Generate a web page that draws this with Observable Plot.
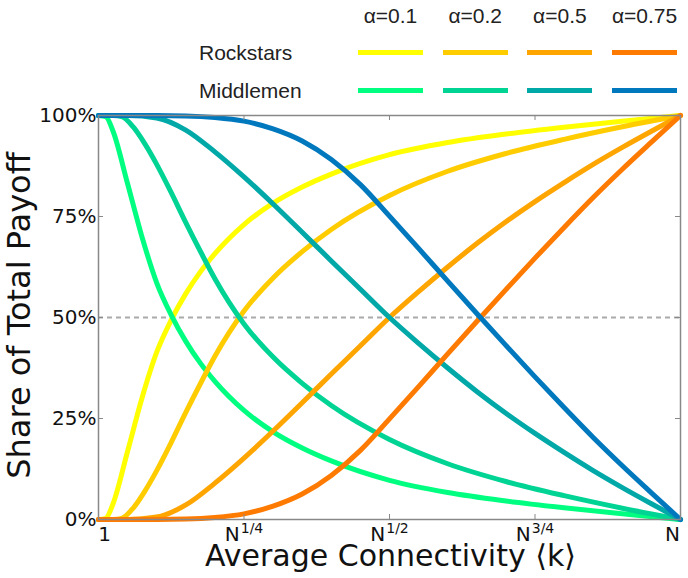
<!DOCTYPE html>
<html><head><meta charset="utf-8">
<script src="https://cdn.jsdelivr.net/npm/d3@7"></script>
<script src="https://cdn.jsdelivr.net/npm/@observablehq/plot@0.6"></script>
<style>
body{margin:0;background:#fff;}
#legend{position:relative;width:688px;height:105px;font-family:"Liberation Sans",Arial,sans-serif;font-size:21px;color:#222;}
.lab{position:absolute;white-space:nowrap;line-height:1;}
.sw{position:absolute;height:5px;width:65px;}
</style></head><body>
<div id="legend"></div>
<div id="chart"></div>
<script>
// ---- data (x = log_N k, y = share of total payoff) ----
const alphaLabels = ["α=0.1", "α=0.2", "α=0.5", "α=0.75"];
const seriesNames = ["Rockstars", "Middlemen"];
const rockColors = ["#FFFF00", "#FFCC00", "#FFA500", "#FF7A00"];
const midColors  = ["#00FF80", "#00D494", "#00A8A8", "#0078BE"];

const xA01 = [0, 0.0125, 0.025, 0.05, 0.075, 0.1, 0.125, 0.15, 0.175, 0.2, 0.25, 0.3, 0.35, 0.4, 0.5, 0.6, 0.7, 0.8, 0.9, 1];
const rockA01 = [0, 0.003, 0.039, 0.169, 0.302, 0.414, 0.494, 0.559, 0.613, 0.658, 0.73, 0.783, 0.823, 0.855, 0.903, 0.933, 0.954, 0.971, 0.986, 1];
const midA01  = [1, 0.997, 0.961, 0.831, 0.698, 0.586, 0.506, 0.441, 0.387, 0.342, 0.27, 0.217, 0.177, 0.145, 0.097, 0.067, 0.046, 0.029, 0.014, 0];

const xA02 = [0, 0.025, 0.04, 0.06, 0.08, 0.1, 0.125, 0.15, 0.175, 0.2, 0.25, 0.3, 0.35, 0.4, 0.5, 0.6, 0.7, 0.8, 0.9, 1];
const rockA02 = [0, 0, 0.003, 0.029, 0.071, 0.121, 0.191, 0.265, 0.336, 0.404, 0.516, 0.598, 0.663, 0.718, 0.802, 0.862, 0.906, 0.941, 0.972, 1];
const midA02  = [1, 1, 0.997, 0.971, 0.929, 0.879, 0.809, 0.735, 0.664, 0.596, 0.484, 0.402, 0.337, 0.282, 0.198, 0.138, 0.094, 0.059, 0.028, 0];

const xA05 = [0, 0.05, 0.1, 0.15, 0.2, 0.25, 0.3, 0.35, 0.4, 0.45, 0.5, 0.55, 0.6, 0.65, 0.7, 0.75, 0.8, 0.85, 0.9, 0.95, 1];
const rockA05 = [0, 0, 0.006, 0.036, 0.09, 0.152, 0.219, 0.289, 0.36, 0.43, 0.5, 0.564, 0.625, 0.683, 0.737, 0.787, 0.834, 0.879, 0.921, 0.961, 1];
const midA05  = [1, 1, 0.994, 0.964, 0.91, 0.848, 0.781, 0.711, 0.64, 0.57, 0.5, 0.436, 0.375, 0.317, 0.263, 0.213, 0.166, 0.121, 0.079, 0.039, 0];

const xA075 = [0, 0.1, 0.15, 0.2, 0.25, 0.3, 0.35, 0.4, 0.45, 0.5, 0.55, 0.6, 0.65, 0.7, 0.75, 0.8, 0.85, 0.9, 0.95, 1];
const rockA075 = [0, 0, 0.001, 0.005, 0.014, 0.033, 0.063, 0.109, 0.171, 0.249, 0.329, 0.41, 0.49, 0.569, 0.647, 0.723, 0.797, 0.867, 0.934, 1];
const midA075  = [1, 1, 0.999, 0.995, 0.986, 0.967, 0.937, 0.891, 0.829, 0.751, 0.671, 0.59, 0.51, 0.431, 0.353, 0.277, 0.203, 0.133, 0.066, 0];

const xTickPos = [0, 0.25, 0.5, 0.75, 1];
const xTickLabels = ["1", "N^1/4", "N^1/2", "N^3/4", "N"];
const yTickPos = [0, 0.25, 0.5, 0.75, 1];
const yTickLabels = ["0%", "25%", "50%", "75%", "100%"];
const xTitle = "Average Connectivity ⟨k⟩";
const yTitle = "Share of Total Payoff";
const refLine = [0.5];

// ---- build series ----
const xs = [xA01, xA02, xA05, xA075];
const rocks = [rockA01, rockA02, rockA05, rockA075];
const mids = [midA01, midA02, midA05, midA075];
const toRows = (x, y) => x.map((v, i) => ({x: v, y: y[i]}));

// ---- legend (HTML) ----
const leg = document.getElementById("legend");
function addLab(txt, left, top, center) {
  const s = document.createElement("span");
  s.className = "lab"; s.textContent = txt;
  s.style.top = top + "px";
  s.style.left = left + "px";
  if (center) s.style.transform = "translateX(-50%)";
  leg.appendChild(s);
}
alphaLabels.forEach((a, i) => {
  const left = 358 + i * 84.7;
  addLab(a, left + 32.5, 5, true);
  [rockColors[i], midColors[i]].forEach((c, j) => {
    const d = document.createElement("div");
    d.className = "sw"; d.style.left = left + "px"; d.style.top = (j ? 88 : 50) + "px"; d.style.background = c;
    leg.appendChild(d);
  });
});
addLab(seriesNames[0], 199, 42, false);
addLab(seriesNames[1], 199, 80, false);

// ---- chart ----
const innerH = 473 - 10 - 59, innerW = 688 - 98 - 8;
const lineMarks = [];
xs.forEach((x, i) => {
  lineMarks.push(Plot.line(toRows(x, rocks[i]), {x: "x", y: "y", stroke: rockColors[i], strokeWidth: 5, curve: "monotone-x"}));
  lineMarks.push(Plot.line(toRows(x, mids[i]), {x: "x", y: "y", stroke: midColors[i], strokeWidth: 5, curve: "monotone-x"}));
});

const chart = Plot.plot({
  width: 688, height: 473,
  marginTop: 10, marginBottom: 59, marginLeft: 98, marginRight: 8,
  x: {domain: [0, 1]},
  y: {domain: [0, 1]},
  style: {fontFamily: "'DejaVu Sans', sans-serif", fontSize: "20px", color: "#111", background: "#fff", overflow: "visible"},
  marks: [
    Plot.ruleY(refLine, {stroke: "#aaa", strokeWidth: 2, strokeDasharray: "5,4"}),
    ...lineMarks,
    Plot.frame({stroke: "#888", strokeWidth: 1.5}),
    Plot.ruleX(xTickPos.slice(1, -1), {stroke: "#888", insetTop: innerH - 5}),
    Plot.ruleX(xTickPos.slice(1, -1), {stroke: "#888", insetBottom: innerH - 5}),
    Plot.ruleY(yTickPos.slice(1, -1), {stroke: "#888", insetRight: innerW - 5}),
    Plot.ruleY(yTickPos.slice(1, -1), {stroke: "#888", insetLeft: innerW - 5}),
    Plot.axisX(xTickPos, {tickSize: 0, tickPadding: 7, label: null, fontSize: 20, tickFormat: d => xTickLabels[xTickPos.indexOf(d)]}),
    Plot.axisY(yTickPos, {tickSize: 0, tickPadding: 2, label: null, fontSize: 20, tickFormat: d => yTickLabels[yTickPos.indexOf(d)]}),
    Plot.text([xTitle], {text: d => d, frameAnchor: "bottom", textAnchor: "middle", dy: 37, dx: 1, fontSize: 30, lineAnchor: "middle", fill: "#111"}),
    Plot.text([yTitle], {text: d => d, frameAnchor: "left", textAnchor: "middle", rotate: -90, dx: -79, dy: -2, fontSize: 32, lineAnchor: "middle", fill: "#111"})
  ]
});
document.getElementById("chart").appendChild(chart);

// superscripts on x tick labels and end-label nudges
const tickTexts = d3.select(chart).selectAll('g[aria-label="x-axis tick label"] text');
tickTexts.each(function() {
  const t = d3.select(this);
  const s = t.text();
  if (s.includes("^")) {
    const [base, sup] = s.split("^");
    t.text("");
    t.append("tspan").text(base);
    t.append("tspan").attr("font-size", "14px").attr("dx", "1").attr("dy", "-0.55em").text(sup);
  }
});
const nodes = tickTexts.nodes();
if (nodes.length) {
  d3.select(nodes[0]).attr("dx", 6);
  d3.select(nodes[nodes.length - 1]).attr("dx", -8);
}
</script>
</body></html>
